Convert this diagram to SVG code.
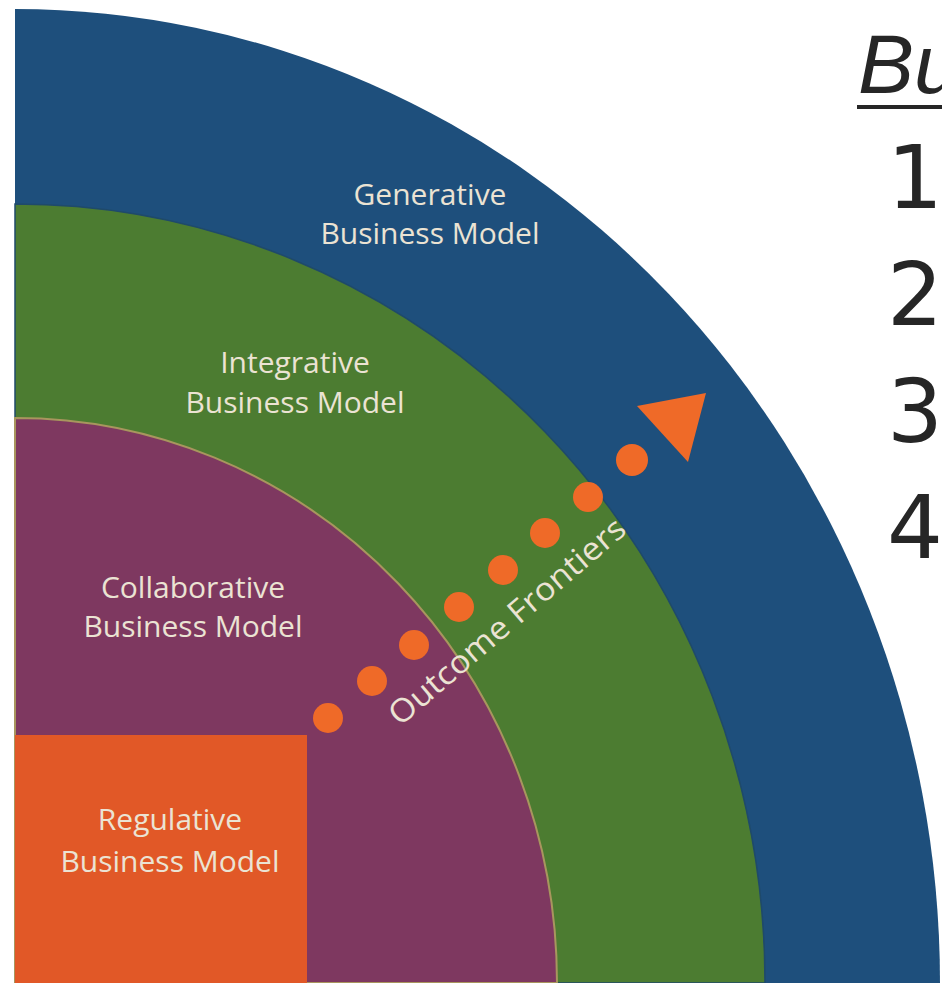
<svg xmlns="http://www.w3.org/2000/svg" width="942" height="983" viewBox="0 0 942 983">
  <style>
    .lbl { font-family: "Open Sans", "Noto Sans", sans-serif; font-size: 30px; fill: #ebe3d3; text-anchor: middle; }
    .num { font-family: "DejaVu Sans", sans-serif; font-size: 88px; fill: #262626; }
    .dot { fill: #ef6a28; }
  </style>
  <rect width="942" height="983" fill="#ffffff"/>
  <g id="generative">
    <path d="M15,983 L15,9 A925,974 0 0 1 940,983 Z" fill="#1e4f7c"/>
    <text class="lbl" x="430" y="205">Generative</text>
    <text class="lbl" x="430" y="244">Business Model</text>
  </g>
  <g id="integrative">
    <path d="M15,983 L15,204 A750,779 0 0 1 765,983 Z" fill="#4c7c31" stroke="#1f4a6a" stroke-width="1.5"/>
    <text class="lbl" x="295" y="373">Integrative</text>
    <text class="lbl" x="295" y="413">Business Model</text>
  </g>
  <g id="collaborative">
    <path d="M15,983 L15,418 A542,565 0 0 1 557,983 Z" fill="#7e3860" stroke="#a8965e" stroke-width="2"/>
    <text class="lbl" x="193" y="598">Collaborative</text>
    <text class="lbl" x="193" y="637">Business Model</text>
  </g>
  <g id="regulative">
    <rect x="15" y="735" width="292" height="248" fill="#e15827"/>
    <text class="lbl" x="170" y="830">Regulative</text>
    <text class="lbl" x="170" y="872">Business Model</text>
  </g>
  <g id="connectors">
    <circle class="dot" cx="328" cy="718" r="15"/>
    <circle class="dot" cx="372" cy="681" r="15"/>
    <circle class="dot" cx="414" cy="645" r="15"/>
    <circle class="dot" cx="459" cy="607" r="15"/>
    <circle class="dot" cx="503" cy="570" r="15"/>
    <circle class="dot" cx="545" cy="533" r="15"/>
    <circle class="dot" cx="588" cy="497" r="15"/>
    <circle class="dot" cx="632" cy="460" r="16"/>
    <polygon points="637,406 706,393 688,462" fill="#ef6a28"/>
  </g>
  <g id="outcome-frontiers-label">
    <text x="0" y="0" transform="translate(400,727) rotate(-40.5)" font-family="Open Sans, Noto Sans, sans-serif" font-size="32" fill="#ebe3d3" textLength="300" lengthAdjust="spacingAndGlyphs">Outcome Frontiers</text>
  </g>
  <g id="legend">
    <text x="858" y="93" font-family="Liberation Sans, Arial, sans-serif" font-style="italic" font-size="84" fill="#262626">Bu</text>
    <line x1="857" y1="107" x2="942" y2="107" stroke="#262626" stroke-width="4"/>
    <text class="num" x="887" y="208">1</text>
    <text class="num" x="887" y="325">2</text>
    <text class="num" x="887" y="442">3</text>
    <text class="num" x="887" y="558">4</text>
  </g>
</svg>
